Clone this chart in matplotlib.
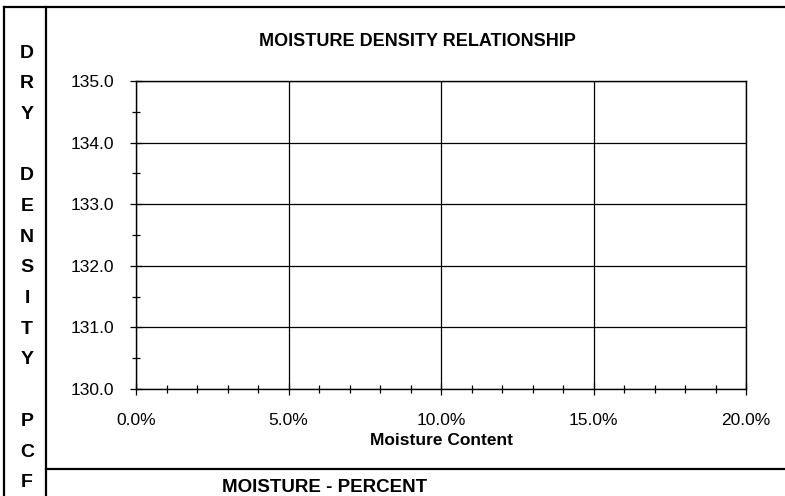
import numpy as np
import matplotlib.pyplot as plt
from matplotlib.lines import Line2D
from matplotlib.ticker import MultipleLocator

plt.rcParams['font.family'] = ['Liberation Sans', 'DejaVu Sans']

# --- chart data ---
x_ticks = [0.0, 5.0, 10.0, 15.0, 20.0]          # moisture %
x_labels = ["0.0%", "5.0%", "10.0%", "15.0%", "20.0%"]
y_ticks = [130.0, 131.0, 132.0, 133.0, 134.0, 135.0]   # dry density pcf
y_labels = ["130.0", "131.0", "132.0", "133.0", "134.0", "135.0"]
side_letters = ["D", "R", "Y", "", "D", "E", "N", "S", "I", "T", "Y", "", "P", "C", "F"]

fig = plt.figure(figsize=(7.85, 4.96), dpi=100)
ax = fig.add_axes([136/785, 1 - 389/496, 610/785, 308/496])

ax.set_xlim(x_ticks[0], x_ticks[-1])
ax.set_ylim(y_ticks[0], y_ticks[-1])
ax.set_xticks(x_ticks)
ax.set_xticklabels(x_labels, fontsize=12.5)
ax.set_yticks(y_ticks)
ax.set_yticklabels(y_labels, fontsize=12.5)
ax.xaxis.set_minor_locator(MultipleLocator(1.0))
ax.yaxis.set_minor_locator(MultipleLocator(0.5))
ax.tick_params(which='major', direction='inout', length=8, width=0.9, color='black')
ax.tick_params(which='minor', direction='inout', length=6, width=0.9, color='black')
ax.tick_params(axis='y', which='major', pad=12)
ax.tick_params(axis='x', which='major', pad=13)
ax.grid(True, which='major', color='black', lw=0.9)
for sp in ax.spines.values():
    sp.set_linewidth(1.0)
    sp.set_color('black')

ax.set_xlabel("Moisture Content", fontsize=12.5, fontweight='bold', labelpad=4)
fig.text(417/785, 1 - 42/496, "MOISTURE DENSITY RELATIONSHIP", ha='center', va='center',
         fontsize=13, fontweight='bold')
fig.text(325/785, 1 - 487/496, "MOISTURE - PERCENT", ha='center', va='center',
         fontsize=13.5, fontweight='bold')

# side label, one letter per row
y0, step = 53, 30.7
for i, ch in enumerate(side_letters):
    if ch:
        fig.text(27/785, 1 - (y0 + i * step)/496, ch, ha='center', va='center',
                 fontsize=14, fontweight='bold')

# form border lines
top_y = 1 - 7/496
bot_y = 1 - 469/496
lw = 1.6
fig.add_artist(Line2D([4/785, 1], [top_y, top_y], color='black', lw=lw))
fig.add_artist(Line2D([4/785, 4/785], [0, top_y], color='black', lw=lw))
fig.add_artist(Line2D([46/785, 46/785], [0, top_y], color='black', lw=lw))
fig.add_artist(Line2D([46/785, 1], [bot_y, bot_y], color='black', lw=lw))

fig.savefig("out.png", dpi=100)
